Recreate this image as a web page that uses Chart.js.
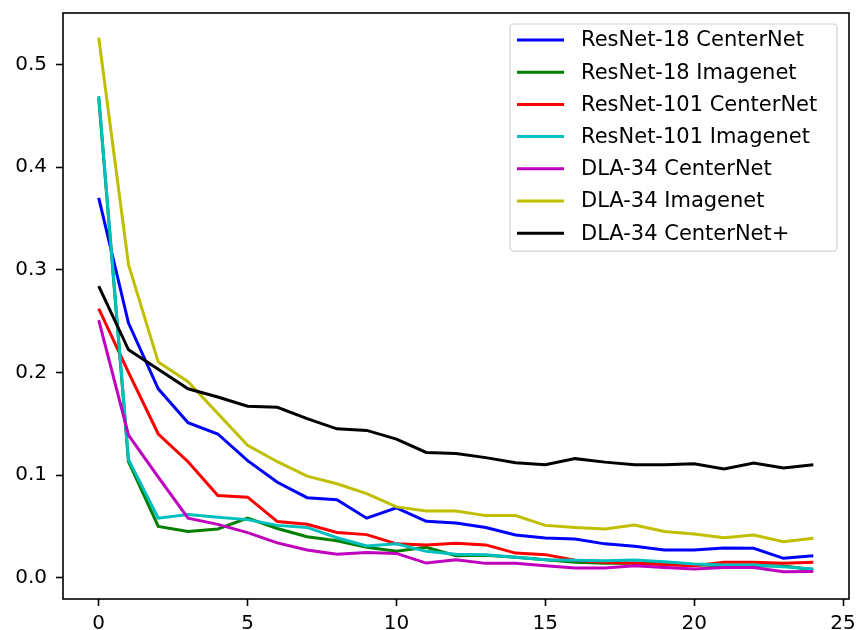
<!DOCTYPE html>
<html>
<head>
<meta charset="utf-8">
<script src="https://cdn.jsdelivr.net/npm/chart.js@4"></script>
<style>
  html, body { margin: 0; padding: 0; background: #fff; }
  #wrap { width: 858px; height: 630px; position: relative; }
</style>
</head>
<body>
<div id="wrap"><canvas id="lossChart"></canvas></div>
<script>
/* ================= DATA ================= */
const epochs = [0,1,2,3,4,5,6,7,8,9,10,11,12,13,14,15,16,17,18,19,20,21,22,23,24];
const xTicks = [0, 5, 10, 15, 20, 25];
const yTicks = [0.0, 0.1, 0.2, 0.3, 0.4, 0.5];

const seriesNames = [
  "ResNet-18 CenterNet", "ResNet-18 Imagenet", "ResNet-101 CenterNet",
  "ResNet-101 Imagenet", "DLA-34 CenterNet", "DLA-34 Imagenet", "DLA-34 CenterNet+"
];
const seriesColors = ["#0000ff", "#008000", "#ff0000", "#00bfbf", "#bf00bf", "#bfbf00", "#000000"];

const resnet18Center = [0.370, 0.248, 0.184, 0.151, 0.140, 0.114, 0.093, 0.078, 0.076, 0.058, 0.068, 0.055, 0.0534, 0.049, 0.0417, 0.0388, 0.0378, 0.033, 0.0306, 0.027, 0.027, 0.029, 0.0287, 0.0189, 0.0215];
const resnet18Imagenet = [0.467, 0.113, 0.050, 0.045, 0.0475, 0.058, 0.048, 0.040, 0.036, 0.0296, 0.0257, 0.0296, 0.0215, 0.022, 0.020, 0.0176, 0.015, 0.014, 0.014, 0.014, 0.0127, 0.0117, 0.0117, 0.0114, 0.0078];
const resnet101Center = [0.262, 0.200, 0.140, 0.113, 0.080, 0.0785, 0.0547, 0.052, 0.044, 0.042, 0.033, 0.032, 0.0335, 0.032, 0.024, 0.0225, 0.017, 0.015, 0.014, 0.0127, 0.0117, 0.015, 0.015, 0.014, 0.015];
const resnet101Imagenet = [0.469, 0.115, 0.058, 0.0615, 0.059, 0.0566, 0.051, 0.049, 0.039, 0.031, 0.033, 0.0257, 0.023, 0.0225, 0.020, 0.0176, 0.017, 0.0166, 0.0173, 0.0156, 0.0134, 0.0124, 0.0124, 0.0107, 0.0085];
const dla34Center = [0.251, 0.139, 0.098, 0.058, 0.052, 0.044, 0.034, 0.027, 0.023, 0.0247, 0.0237, 0.0143, 0.0176, 0.014, 0.014, 0.0117, 0.0095, 0.0094, 0.0117, 0.010, 0.0085, 0.010, 0.010, 0.0059, 0.0062];
const dla34Imagenet = [0.526, 0.305, 0.210, 0.191, 0.160, 0.129, 0.113, 0.099, 0.0915, 0.082, 0.069, 0.065, 0.065, 0.0605, 0.0605, 0.051, 0.049, 0.0475, 0.0514, 0.045, 0.0427, 0.039, 0.0417, 0.035, 0.0384];
const dla34CenterPlus = [0.284, 0.222, 0.203, 0.184, 0.176, 0.167, 0.166, 0.155, 0.145, 0.1435, 0.135, 0.122, 0.121, 0.117, 0.112, 0.110, 0.116, 0.1126, 0.110, 0.110, 0.111, 0.106, 0.1117, 0.107, 0.110];

const allSeries = [resnet18Center, resnet18Imagenet, resnet101Center, resnet101Imagenet, dla34Center, dla34Imagenet, dla34CenterPlus];

const FONT = "DejaVu Sans";

/* ================= PLUGINS ================= */
// axes frame (all four sides, like matplotlib spines)
const framePlugin = {
  id: "frame",
  afterDatasetsDraw(chart) {
    const { ctx, chartArea: a } = chart;
    ctx.save();
    ctx.strokeStyle = "#000";
    ctx.lineWidth = 1.6;
    ctx.strokeRect(a.left, a.top, a.right - a.left, a.bottom - a.top);
    ctx.restore();
  }
};

// legend box in the upper right corner
const legendPlugin = {
  id: "boxLegend",
  afterDraw(chart) {
    const ctx = chart.ctx;
    const x0 = 510, y0 = 24, w = 327, rowH = 32.2, firstY = 40;
    const n = chart.data.datasets.length;
    const h = firstY - y0 + (n - 1) * rowH + 18;

    ctx.save();
    ctx.beginPath();
    ctx.roundRect(x0, y0, w, h, 4);
    ctx.fillStyle = "rgba(255,255,255,0.8)";
    ctx.fill();
    ctx.strokeStyle = "rgba(204,204,204,0.9)";
    ctx.lineWidth = 1.2;
    ctx.stroke();

    ctx.font = "21px '" + FONT + "'";
    ctx.textBaseline = "middle";
    ctx.textAlign = "left";
    chart.data.datasets.forEach((ds, i) => {
      const y = firstY + i * rowH;
      ctx.beginPath();
      ctx.moveTo(517, y);
      ctx.lineTo(564, y);
      ctx.strokeStyle = ds.borderColor;
      ctx.lineWidth = 3;
      ctx.stroke();
      ctx.fillStyle = "#000";
      ctx.fillText(ds.label, 581, y + 1);
    });
    ctx.restore();
  }
};

/* ================= CHART ================= */
const datasets = allSeries.map((vals, i) => ({
  label: seriesNames[i],
  data: vals.map((v, k) => ({ x: epochs[k], y: v })),
  borderColor: seriesColors[i],
  backgroundColor: seriesColors[i],
  borderWidth: 3,
  pointRadius: 0,
  tension: 0,
  fill: false,
  order: allSeries.length - i
}));

new Chart(document.getElementById("lossChart"), {
  type: "line",
  data: { datasets },
  options: {
    responsive: true,
    maintainAspectRatio: false,
    animation: false,
    layout: { padding: { left: 0, right: 9, top: 13, bottom: 0 } },
    plugins: {
      legend: { display: false },
      tooltip: { enabled: false }
    },
    scales: {
      x: {
        type: "linear",
        min: -1.2,
        max: 25.2,
        afterBuildTicks: s => { s.ticks = xTicks.map(v => ({ value: v })); },
        afterFit: s => { s.height = 31; s.paddingLeft = 0; s.paddingRight = 0; },
        ticks: {
          color: "#000",
          font: { family: FONT, size: 20 },
          padding: 6,
          maxRotation: 0,
          callback: v => String(v)
        },
        grid: { drawOnChartArea: false, drawTicks: true, tickLength: 7, tickColor: "#000", tickWidth: 1.6 },
        border: { display: false }
      },
      y: {
        type: "linear",
        min: -0.0207,
        max: 0.550,
        afterBuildTicks: s => { s.ticks = yTicks.map(v => ({ value: v })); },
        afterFit: s => { s.width = 63; s.paddingTop = 0; s.paddingBottom = 0; },
        ticks: {
          color: "#000",
          font: { family: FONT, size: 20 },
          padding: 9,
          callback: v => v.toFixed(1)
        },
        grid: { drawOnChartArea: false, drawTicks: true, tickLength: 7, tickColor: "#000", tickWidth: 1.6 },
        border: { display: false }
      }
    }
  },
  plugins: [framePlugin, legendPlugin]
});
</script>
</body>
</html>
